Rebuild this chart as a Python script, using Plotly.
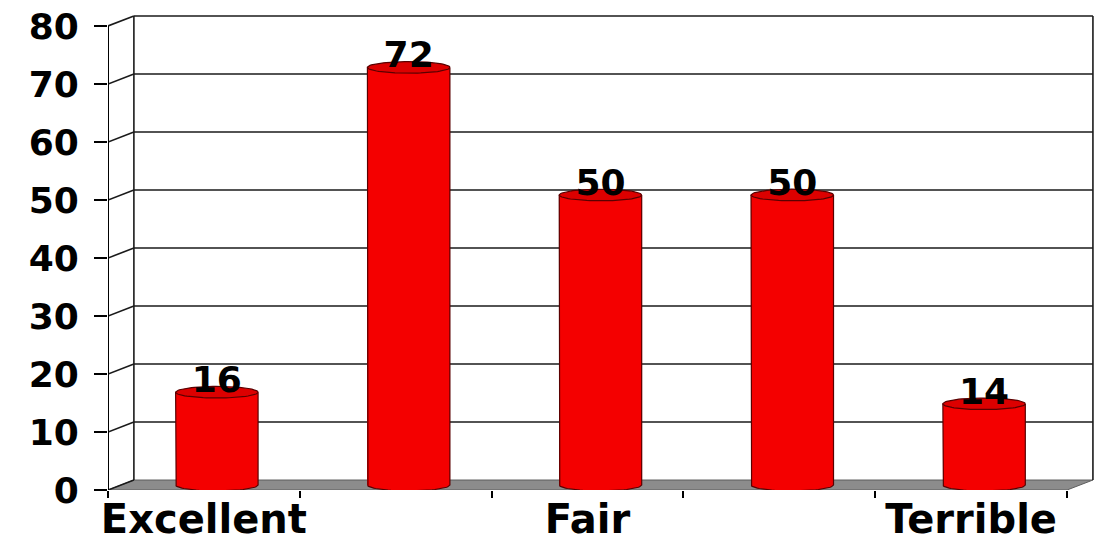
import numpy as np
import plotly.graph_objects as go

# Survey responses per rating category (only alternate labels are printed on the axis)
tick_labels = ["Excellent", "", "Fair", "", "Terrible"]
values = [16, 72, 50, 50, 14]
y_ticks = [0, 10, 20, 30, 40, 50, 60, 70, 80]

# 3-D look: depth offset of the back wall, in axis units
DEPTH_X = 0.135
DEPTH_Y = 1.72
BAR_W = 0.43
CAP_H = 1.0

FONT = "DejaVu Sans"
RED = "#F40000"
CAP_RED = "#DC0000"
EDGE = "#5a0000"

n = len(values)
xs = np.arange(n) + DEPTH_X / 2          # bars stand at mid-depth
base = DEPTH_Y / 2
tops = np.array(values, dtype=float) + base

fig = go.Figure()

# cylinder bodies
fig.add_trace(go.Bar(
    x=xs, y=values, base=base, width=BAR_W,
    marker=dict(color=RED, line=dict(width=0)),
    hoverinfo="skip", showlegend=False,
))

theta_low = np.linspace(np.pi, 2 * np.pi, 40)
theta_full = np.linspace(0, 2 * np.pi, 80)

bx, by, ox, oy, tx, ty = [], [], [], [], [], []
for cx, top in zip(xs, tops):
    hw = BAR_W / 2
    # lower half of the base ellipse
    bx += list(cx + hw * np.cos(theta_low)) + [None]
    by += list(base + CAP_H * np.sin(theta_low)) + [None]
    # silhouette: left side, bottom arc, right side
    ox += [cx - hw] + list(cx + hw * np.cos(theta_low)) + [cx + hw, None]
    oy += [top] + list(base + CAP_H * np.sin(theta_low)) + [top, None]
    # top ellipse
    tx += list(cx + hw * np.cos(theta_full)) + [None]
    ty += list(top + CAP_H * np.sin(theta_full)) + [None]

fig.add_trace(go.Scatter(x=bx, y=by, mode="lines", fill="toself", fillcolor=RED,
                         line=dict(width=0), hoverinfo="skip", showlegend=False))
fig.add_trace(go.Scatter(x=ox, y=oy, mode="lines", line=dict(color=EDGE, width=1.2),
                         hoverinfo="skip", showlegend=False))
fig.add_trace(go.Scatter(x=tx, y=ty, mode="lines", fill="toself", fillcolor=CAP_RED,
                         line=dict(color=EDGE, width=1.2), hoverinfo="skip", showlegend=False))

# value labels above each cylinder
fig.add_trace(go.Scatter(
    x=xs, y=tops + 1.55, mode="text", text=[str(v) for v in values],
    textposition="middle center",
    textfont=dict(family=FONT, size=36, color="black", weight="bold"),
    hoverinfo="skip", showlegend=False, cliponaxis=False,
))

# walls, grid and floor
x_front = -0.5
x_back_l = x_front + DEPTH_X
x_back_r = n - 0.5 + DEPTH_X
shapes = []
line_style = dict(color="#1a1a1a", width=1.6)
shapes.append(dict(type="path", layer="below",
                   path=f"M {x_front},0 L {n - 0.5},0 L {x_back_r},{DEPTH_Y} L {x_back_l},{DEPTH_Y} Z",
                   fillcolor="#8c8c8c", line=dict(color="#5e5e5e", width=1)))
for v in y_ticks:
    if v > 0:
        shapes.append(dict(type="line", layer="below", x0=x_back_l, x1=x_back_r,
                           y0=v + DEPTH_Y, y1=v + DEPTH_Y, line=line_style))
    shapes.append(dict(type="line", layer="below", x0=x_front, x1=x_back_l,
                       y0=v, y1=v + DEPTH_Y, line=line_style))
top_v = y_ticks[-1]
shapes.append(dict(type="line", layer="below", x0=x_back_l, x1=x_back_l,
                   y0=DEPTH_Y, y1=top_v + DEPTH_Y, line=line_style))
shapes.append(dict(type="line", layer="below", x0=x_back_r, x1=x_back_r,
                   y0=DEPTH_Y, y1=top_v + DEPTH_Y, line=line_style))
shapes.append(dict(type="line", layer="below", x0=x_front, x1=x_front,
                   y0=0, y1=top_v, line=dict(color="black", width=2)))

fig.update_layout(
    width=1096, height=544,
    margin=dict(l=108, r=0, t=0, b=54),
    paper_bgcolor="white", plot_bgcolor="white",
    shapes=shapes,
    bargap=0,
    xaxis=dict(
        range=[-0.5, 4.651], showgrid=False, zeroline=False, showline=False,
        tickmode="array", tickvals=list(range(n)), ticktext=tick_labels,
        ticks="", ticklabelstandoff=2,
        tickfont=dict(family=FONT, size=40, color="black", weight="bold"),
        minor=dict(tickmode="array", tickvals=[i - 0.5 for i in range(n + 1)],
                   ticks="outside", ticklen=7, tickwidth=2, tickcolor="black"),
        automargin=False, fixedrange=True,
    ),
    yaxis=dict(
        range=[0, 84.48], showgrid=False, zeroline=False, showline=False,
        tickmode="array", tickvals=y_ticks,
        ticks="outside", ticklen=13, tickwidth=2, tickcolor="black",
        ticklabelstandoff=8,
        tickfont=dict(family=FONT, size=36, color="black", weight="bold"),
        automargin=False, fixedrange=True,
    ),
)

fig.write_html("out.html")
